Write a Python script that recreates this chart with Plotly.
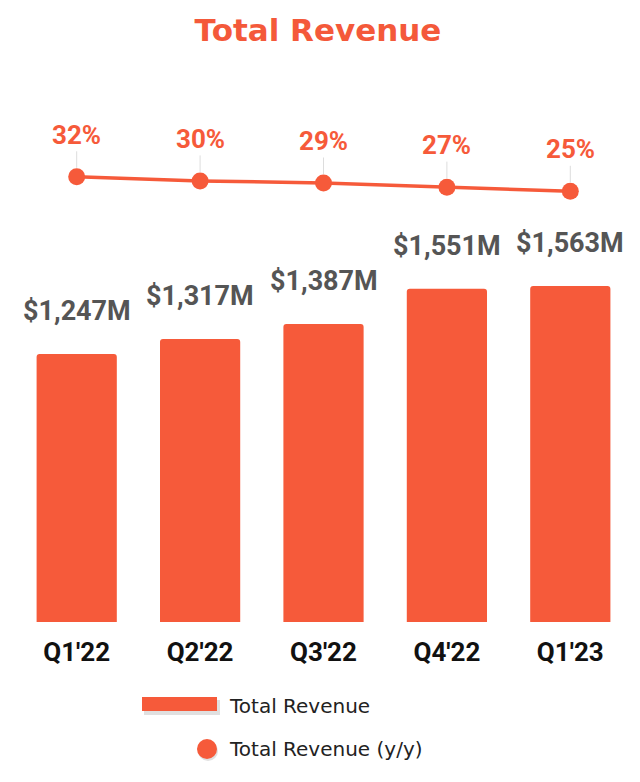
import plotly.graph_objects as go

quarters = ["Q1'22", "Q2'22", "Q3'22", "Q4'22", "Q1'23"]
revenue = [1247, 1317, 1387, 1551, 1563]
revenue_labels = ["$1,247M", "$1,317M", "$1,387M", "$1,551M", "$1,563M"]
growth = [32, 30, 29, 27, 25]
growth_labels = ["32%", "30%", "29%", "27%", "25%"]
bar_name = "Total Revenue"
line_name = "Total Revenue (y/y)"

ORANGE = "#F65A3A"

# page body has an 8px margin; figure is sized to fit the window
OFF = 8
W, H = 640 - OFF, 782 - OFF
L, R, T, B = 15 - OFF, 640 - 632, 100 - OFF, H - (622 - OFF)
pw, ph = W - L - R, H - T - B


def px_x(x):
    return (x - OFF - L) / pw


def px_y(y):
    return (H - B - (y - OFF)) / ph


fig = go.Figure()
fig.add_trace(go.Bar(
    x=quarters, y=revenue, name=bar_name, marker_color=ORANGE,
    marker_line_width=0, showlegend=False, yaxis="y", hoverinfo="skip",
))
fig.add_trace(go.Scatter(
    x=quarters, y=growth, name=line_name, mode="lines+markers",
    line=dict(color=ORANGE, width=3.5), marker=dict(color=ORANGE, size=17),
    showlegend=False, yaxis="y2", hoverinfo="skip",
))

annotations = []
for q, v, t in zip(quarters, revenue, revenue_labels):
    annotations.append(dict(
        x=q, y=v, xref="x", yref="y", text=t, showarrow=False,
        yshift=43, yanchor="middle",
        font=dict(family="Roboto", size=27, color="#555555", weight="bold"),
    ))
for q, v, t in zip(quarters, growth, growth_labels):
    annotations.append(dict(
        x=q, y=v, xref="x", yref="y2", text=t, showarrow=True,
        ax=0, ay=-42, arrowhead=0, arrowwidth=1, arrowcolor="#DDDDDD",
        standoff=9, borderpad=1,
        font=dict(family="Roboto", size=26, color=ORANGE, weight="bold"),
    ))

# legend (drawn manually)
annotations.append(dict(
    x=px_x(227), y=px_y(706), xref="paper", yref="paper", text=bar_name,
    showarrow=False, xanchor="left", yanchor="middle",
    font=dict(family="DejaVu Sans", size=20, color="#222222"),
))
annotations.append(dict(
    x=px_x(227), y=px_y(749), xref="paper", yref="paper", text=line_name,
    showarrow=False, xanchor="left", yanchor="middle",
    font=dict(family="DejaVu Sans", size=20, color="#222222"),
))

shapes = [
    dict(type="rect", xref="paper", yref="paper",
         x0=px_x(144), x1=px_x(220), y0=px_y(700), y1=px_y(715),
         fillcolor="rgba(0,0,0,0.12)", line_width=0, layer="below"),
    dict(type="rect", xref="paper", yref="paper",
         x0=px_x(142), x1=px_x(217), y0=px_y(697), y1=px_y(711),
         fillcolor=ORANGE, line_width=0),
    dict(type="circle", xref="paper", yref="paper",
         x0=px_x(198), x1=px_x(218), y0=px_y(741), y1=px_y(761),
         fillcolor="rgba(0,0,0,0.12)", line_width=0),
    dict(type="circle", xref="paper", yref="paper",
         x0=px_x(197), x1=px_x(217), y0=px_y(739), y1=px_y(759),
         fillcolor=ORANGE, line_width=0),
]

fig.update_layout(
    width=W, height=H,
    margin=dict(l=L, r=R, t=T, b=B, autoexpand=False),
    paper_bgcolor="white", plot_bgcolor="white",
    title=dict(text="<b>Total Revenue</b>", x=(318 - OFF) / W, xanchor="center",
               y=1 - (30 - OFF) / H, yanchor="middle",
               font=dict(family="DejaVu Sans", size=31, color="#F4593A")),
    bargap=0.35,
    barcornerradius=3,
    xaxis=dict(showgrid=False, zeroline=False, showline=False,
               ticks="", ticklabelstandoff=12,
               tickfont=dict(family="Roboto", size=26, color="#111111", weight="bold")),
    yaxis=dict(range=[0, 2429], visible=False, showgrid=False, zeroline=False),
    yaxis2=dict(range=[-183.1, 69.1], visible=False, overlaying="y",
                showgrid=False, zeroline=False),
    annotations=annotations,
    shapes=shapes,
)

fig.write_html("out.html")
